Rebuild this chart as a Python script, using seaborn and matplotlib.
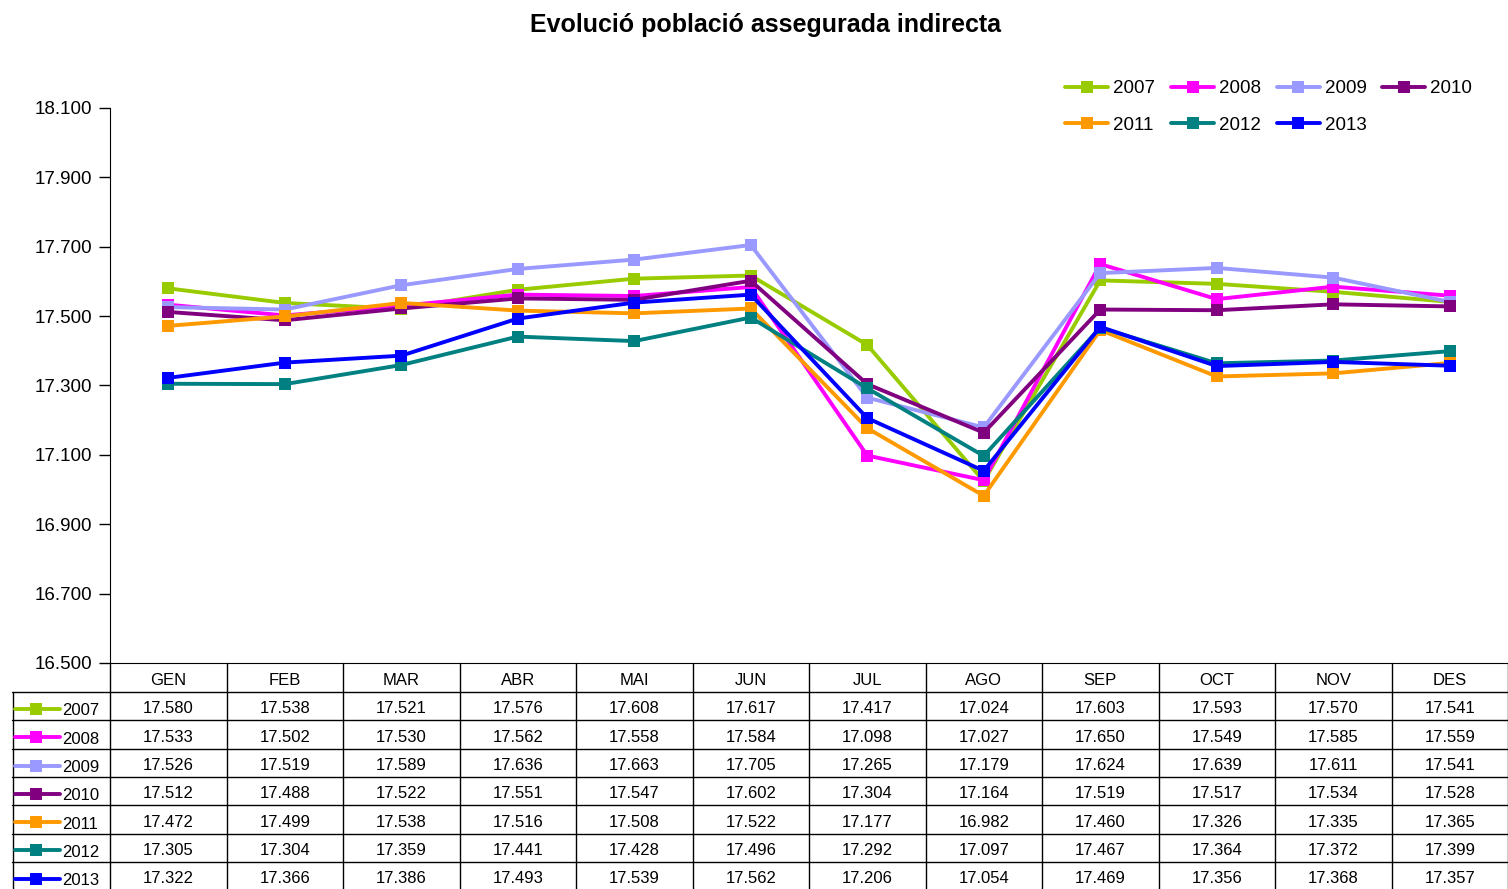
import pandas as pd
import matplotlib.pyplot as plt
import matplotlib.ticker as mticker
from matplotlib.lines import Line2D
import seaborn as sns

# Monthly values (thousands of insured people)
months = ['GEN', 'FEB', 'MAR', 'ABR', 'MAI', 'JUN', 'JUL', 'AGO', 'SEP', 'OCT', 'NOV', 'DES']
years = ['2007', '2008', '2009', '2010', '2011', '2012', '2013']
v2007 = [17580, 17538, 17521, 17576, 17608, 17617, 17417, 17024, 17603, 17593, 17570, 17541]
v2008 = [17533, 17502, 17530, 17562, 17558, 17584, 17098, 17027, 17650, 17549, 17585, 17559]
v2009 = [17526, 17519, 17589, 17636, 17663, 17705, 17265, 17179, 17624, 17639, 17611, 17541]
v2010 = [17512, 17488, 17522, 17551, 17547, 17602, 17304, 17164, 17519, 17517, 17534, 17528]
v2011 = [17472, 17499, 17538, 17516, 17508, 17522, 17177, 16982, 17460, 17326, 17335, 17365]
v2012 = [17305, 17304, 17359, 17441, 17428, 17496, 17292, 17097, 17467, 17364, 17372, 17399]
v2013 = [17322, 17366, 17386, 17493, 17539, 17562, 17206, 17054, 17469, 17356, 17368, 17357]
series = [v2007, v2008, v2009, v2010, v2011, v2012, v2013]
colors = ['#99CC00', '#FF00FF', '#9999FF', '#800080', '#FF9900', '#008080', '#0000FF']

df = pd.DataFrame({
    'Mes': months * len(years),
    'Any': [y for y in years for _ in months],
    'Valor': [v for s in series for v in s],
})
palette = dict(zip(years, colors))


def fmt(v):
    return f"{v:,.0f}".replace(',', '.')


sns.set_style("white")
plt.rcParams['font.family'] = ['Liberation Sans', 'DejaVu Sans']
for k in ['text.color', 'axes.labelcolor', 'xtick.color', 'ytick.color', 'axes.edgecolor']:
    plt.rcParams[k] = 'black'

W, H = 1508, 889
LW, MS = 2.8, 8.5
fig = plt.figure(figsize=(W / 100, H / 100), dpi=100)
ax = fig.add_axes([110 / W, (H - 663) / H, (W - 110) / W, (663 - 108) / H])

sns.lineplot(data=df, x='Mes', y='Valor', hue='Any', palette=palette, style='Any',
             markers=['s'] * len(years), dashes=False, markersize=MS, linewidth=LW,
             markeredgewidth=0, ax=ax, sort=False)

ax.set_xlim(-0.5, 11.5)
ax.set_ylim(16500, 18100)
ax.set_yticks(range(16500, 18101, 200))
ax.yaxis.set_major_formatter(mticker.FuncFormatter(lambda v, p: fmt(v)))
ax.tick_params(axis='y', left=True, length=8, width=1, direction='out', labelsize=13.5, pad=5)
ax.set_xticks([])
ax.set_xlabel('')
ax.set_ylabel('')
for s in ['top', 'right']:
    ax.spines[s].set_visible(False)

# legend filled row by row: 2007 2008 2009 2010 / 2011 2012 2013
handles, labels = ax.get_legend_handles_labels()
order = [0, 4, 1, 5, 2, 6, 3]
ax.legend([handles[i] for i in order], [labels[i] for i in order], ncol=4, loc='upper right',
          bbox_to_anchor=(1472 / W, 1 - 80 / H), bbox_transform=fig.transFigure,
          frameon=False, fontsize=13.5, handlelength=2.3, handletextpad=0.25,
          columnspacing=0.85, labelspacing=1.05, borderaxespad=0, borderpad=0)

fig.suptitle('Evolució població assegurada indirecta', x=766 / W, y=1 - 13 / H, va='top',
             fontsize=18, fontweight='bold')

# --- Data table below the chart ---
colw = 116.5
x0 = -0.5 - 98 / colw
tab = fig.add_axes([12 / W, 0, (W - 12) / W, (H - 663) / H])
tab.set_xlim(x0, 11.5)
row_h = 28.3
tab.set_ylim((H - 663) / row_h, 0)
tab.axis('off')
hdr = 29 / row_h
lc = dict(color='black', lw=1, clip_on=False)
for i in range(13):
    tab.plot([i - 0.5, i - 0.5], [0, 10], **lc)
tab.plot([x0 + 0.005, x0 + 0.005], [hdr, 10], **lc)
for r in range(8):
    tab.plot([x0, 11.5], [hdr + r, hdr + r], **lc)
tab.set_ylim((H - 663) / row_h, 0)
for i, m in enumerate(months):
    tab.text(i, hdr / 2 + 0.1, m, ha='center', va='center', fontsize=12)
for r, (yr, s, c) in enumerate(zip(years, series, colors)):
    yc = hdr + r + 0.6
    tab.add_line(Line2D([x0 + 3 / colw, x0 + 48 / colw], [yc, yc], color=c, lw=LW))
    tab.add_line(Line2D([x0 + 24 / colw], [yc], color=c, marker='s', markersize=MS,
                        markeredgewidth=0))
    tab.text(x0 + 50 / colw, yc + 0.07, yr, ha='left', va='center', fontsize=12)
    for i, v in enumerate(s):
        tab.text(i, yc, fmt(v), ha='center', va='center', fontsize=12)

fig.savefig('out.png', dpi=100)
